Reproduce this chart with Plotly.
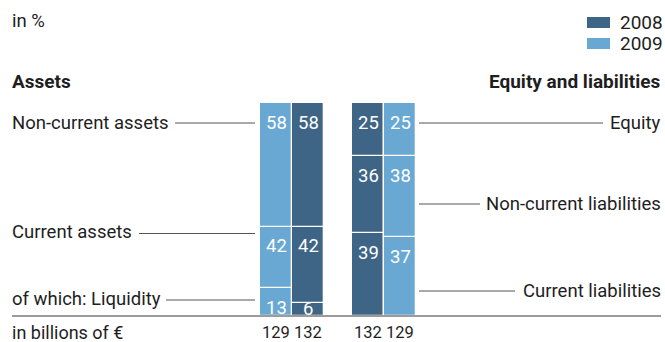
import plotly.graph_objects as go

# ---------------- data ----------------
YEARS = ["2008", "2009"]
NON_CURRENT_ASSETS = [58, 58]
CURRENT_ASSETS = [42, 42]
LIQUIDITY = [6, 13]
EQUITY = [25, 25]
NON_CURRENT_LIAB = [36, 38]
CURRENT_LIAB = [39, 37]
BALANCE_TOTAL = [132, 129]  # in billions of EUR

ASSET_LABELS = ["Non-current assets", "Current assets", "of which: Liquidity"]
LIAB_LABELS = ["Equity", "Non-current liabilities", "Current liabilities"]

# ---------------- layout constants ----------------
W, H = 665, 342
BASE_PX = 316.0          # pixel row of the 0 % baseline
PX_PER_UNIT = 2.13       # pixels per percentage point
BAR_W = 32
# bar centres (pixels): assets 2009, 2008 | equity 2008, 2009
ASSET_X = {"2009": 276, "2008": 308}
LIAB_X = {"2008": 368, "2009": 400}
COLORS = {"2008": "#3e6585", "2009": "#68a8d3"}
TXT = "#1e1e1e"
FONT = "Roboto"
FS = 18.5


def py(px):
    return (BASE_PX - px) / PX_PER_UNIT


def ppy(px):
    return 1 - px / H


fig = go.Figure()
annotations = []


def add_seg(x, base, val, color):
    fig.add_trace(go.Bar(
        x=[x], y=[val], base=[base], width=[BAR_W],
        marker=dict(color=color, line=dict(color="white", width=1.3)),
        showlegend=False, hoverinfo="skip"))


def add_label(x, top, txt):
    y = max(top - 9.3, 3.4)
    annotations.append(dict(x=x, y=y, xref="x", yref="y", text=txt, showarrow=False,
                            font=dict(family=FONT, size=18.5, color="white"),
                            xanchor="center", yanchor="middle"))


for i, yr in enumerate(YEARS):
    c = COLORS[yr]
    # assets
    x = ASSET_X[yr]
    liq, cur, nc = LIQUIDITY[i], CURRENT_ASSETS[i], NON_CURRENT_ASSETS[i]
    add_seg(x, 0, liq, c)
    add_seg(x, liq, cur - liq, c)
    add_seg(x, cur, nc, c)
    add_label(x, liq, str(liq))
    add_label(x, cur, str(cur))
    add_label(x, cur + nc, str(nc))
    # equity and liabilities
    x = LIAB_X[yr]
    cl, ncl, eq = CURRENT_LIAB[i], NON_CURRENT_LIAB[i], EQUITY[i]
    add_seg(x, 0, cl, c)
    add_seg(x, cl, ncl, c)
    add_seg(x, cl + ncl, eq, c)
    add_label(x, cl, str(cl))
    add_label(x, cl + ncl, str(ncl))
    add_label(x, cl + ncl + eq, str(eq))
    # totals under the bars
    for xx in (ASSET_X[yr], LIAB_X[yr]):
        annotations.append(dict(x=xx, y=ppy(332.5), xref="x", yref="paper",
                                text=str(BALANCE_TOTAL[i]), showarrow=False,
                                font=dict(family=FONT, size=16.5, color=TXT),
                                xanchor="center", yanchor="middle", borderpad=0))


def txt(x_px, y_px, s, anchor="left", size=FS, bold=False):
    annotations.append(dict(x=x_px / W, y=ppy(y_px), xref="paper", yref="paper",
                            text=f"<b>{s}</b>" if bold else s, showarrow=False,
                            font=dict(family=FONT, size=size, color=TXT),
                            xanchor=anchor, yanchor="middle", borderpad=0,
                            xshift=-1 if anchor == "left" else 1))


shapes = []


def hline(x0, x1, y_px, color="#333", width=1):
    shapes.append(dict(type="line", xref="paper", yref="paper",
                       x0=x0 / W, x1=x1 / W, y0=ppy(y_px), y1=ppy(y_px),
                       line=dict(color=color, width=width), layer="above"))


# header texts
txt(12, 21, "in %")
txt(12, 82, "Assets", bold=True, size=19)
txt(661, 82, "Equity and liabilities", anchor="right", bold=True, size=19)
txt(12, 332, "in billions of €", size=18)

# legend
for yr, ymid in zip(YEARS, (22.5, 43.5)):
    shapes.append(dict(type="rect", xref="paper", yref="paper",
                       x0=587 / W, x1=610 / W, y0=ppy(ymid - 5.5), y1=ppy(ymid + 5.5),
                       fillcolor=COLORS[yr], line=dict(width=0)))
    txt(620, ymid - 0.5, yr, size=19)

# left labels with leader lines
for lab, ty, lx0, ly in zip(ASSET_LABELS, (123, 232, 299), (175, 139, 166), (123, 233.5, 300)):
    txt(12, ty, lab)
    hline(lx0, 255, ly, color="#555")

# right labels with leader lines
for lab, ty, lx1, ly in zip(LIAB_LABELS, (123, 204, 291), (603, 480, 515), (123, 204, 291)):
    txt(661, ty, lab, anchor="right")
    hline(419, lx1, ly, color="#555")

# baseline
hline(12, 661, BASE_PX, color="#7a7a7a", width=1.6)

fig.update_layout(
    width=W, height=H, margin=dict(l=0, r=0, t=0, b=0),
    paper_bgcolor="white", plot_bgcolor="white",
    barmode="overlay", bargap=0,
    xaxis=dict(range=[0, W], visible=False, fixedrange=True),
    yaxis=dict(range=[py(H), py(0)], visible=False, fixedrange=True),
    annotations=annotations, shapes=shapes,
    font=dict(family=FONT, color=TXT),
)

fig.write_html("out.html")
